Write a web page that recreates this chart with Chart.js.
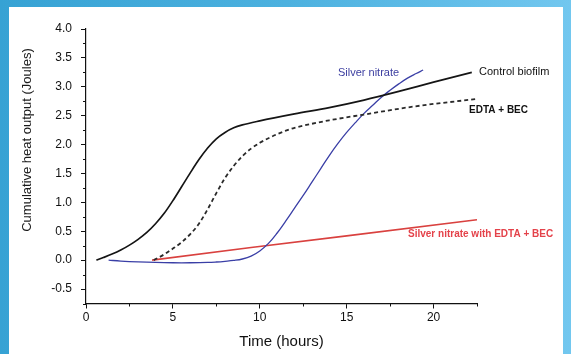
<!DOCTYPE html>
<html><head><meta charset="utf-8">
<script src="https://cdn.jsdelivr.net/npm/chart.js@4/dist/chart.umd.min.js"></script>
<style>
html,body{margin:0;padding:0;}
body{width:571px;height:354px;overflow:hidden;position:relative;background:linear-gradient(90deg,#36a2d4 0%,#4cb1df 50%,#72c7ef 100%);}
#panel{position:absolute;left:9px;top:7px;width:554px;height:347px;background:#fff;}
#c{position:absolute;left:0;top:0;}
</style></head><body>
<div id="panel"></div>
<canvas id="c" width="571" height="354"></canvas>
<script>
// ---- data ----
const controlTime = [0.6, 1.0, 1.5, 2.0, 2.5, 3.0, 3.5, 4.0, 4.5, 5.0, 5.5, 6.0, 6.5, 7.0, 7.5, 8.0, 8.5, 9.0, 10.0, 12.0, 14.0, 16.0, 18.0, 20.0, 22.2];
const controlHeat = [0.0, 0.045, 0.105, 0.175, 0.26, 0.36, 0.48, 0.63, 0.81, 1.03, 1.27, 1.51, 1.74, 1.94, 2.10, 2.21, 2.29, 2.34, 2.41, 2.53, 2.64, 2.77, 2.92, 3.08, 3.25];

const edtaTime = [3.9, 4.5, 5.0, 5.5, 6.0, 6.5, 7.0, 7.5, 8.0, 8.5, 9.0, 9.5, 10.0, 10.5, 11.0, 11.5, 12.0, 13.0, 14.0, 16.0, 18.9, 22.5];
const edtaHeat = [0.0, 0.10, 0.20, 0.31, 0.45, 0.63, 0.88, 1.16, 1.42, 1.63, 1.80, 1.93, 2.03, 2.11, 2.18, 2.24, 2.29, 2.36, 2.42, 2.52, 2.66, 2.79];

const silverTime = [1.3, 2.0, 3.0, 4.0, 5.0, 6.0, 7.0, 7.5, 8.0, 8.5, 9.0, 9.5, 10.0, 10.5, 11.0, 11.5, 12.0, 12.5, 13.0, 13.5, 14.0, 14.5, 15.0, 15.5, 16.0, 16.5, 17.0, 17.5, 18.0, 18.5, 19.0, 19.4];
const silverHeat = [0.0, -0.015, -0.03, -0.04, -0.045, -0.045, -0.04, -0.032, -0.02, -0.005, 0.02, 0.07, 0.16, 0.29, 0.47, 0.68, 0.90, 1.12, 1.35, 1.58, 1.81, 2.02, 2.21, 2.38, 2.54, 2.68, 2.82, 2.94, 3.05, 3.15, 3.23, 3.29];

const silverEdtaTime = [3.8, 9.5, 15.0, 22.5];
const silverEdtaHeat = [0.0, 0.22, 0.42, 0.70];

const xTickValues = [0, 5, 10, 15, 20];
const xMinorValues = [2.5, 7.5, 12.5, 17.5, 22.5];
const yTickValues = [-0.5, 0.0, 0.5, 1.0, 1.5, 2.0, 2.5, 3.0, 3.5, 4.0];
const yMinorValues = [-0.75, -0.25, 0.25, 0.75, 1.25, 1.75, 2.25, 2.75, 3.25, 3.75];

const seriesNames = ['Control biofilm', 'EDTA + BEC', 'Silver nitrate', 'Silver nitrate with EDTA + BEC'];
const xTitle = 'Time (hours)';
const yTitle = 'Cumulative heat output (Joules)';

function pts(xs, ys) { return xs.map((x, i) => ({x: x, y: ys[i]})); }

const FONT = "'Liberation Sans', Arial, sans-serif";

const labelPlugin = {
  id: 'labels',
  afterDraw(chart) {
    const ctx = chart.ctx;
    const xs = chart.scales.x, ys = chart.scales.y;
    ctx.save();
    // minor ticks
    ctx.strokeStyle = '#111';
    ctx.lineWidth = 1;
    ctx.beginPath();
    xMinorValues.forEach(v => {
      const p = Math.round(xs.getPixelForValue(v)) + 0.5;
      ctx.moveTo(p, ys.bottom); ctx.lineTo(p, ys.bottom + 3);
    });
    yMinorValues.forEach(v => {
      const p = Math.round(ys.getPixelForValue(v)) + 0.5;
      ctx.moveTo(xs.left - 3, p); ctx.lineTo(xs.left, p);
    });
    ctx.stroke();
    // y title
    ctx.fillStyle = '#1a1a1a';
    ctx.font = '13px ' + FONT;
    ctx.textAlign = 'center';
    ctx.textBaseline = 'middle';
    ctx.translate(27, 140);
    ctx.rotate(-Math.PI / 2);
    ctx.fillText(yTitle, 0, 0);
    ctx.restore();

    ctx.save();
    ctx.textBaseline = 'middle';
    ctx.textAlign = 'left';
    ctx.font = '11px ' + FONT;
    ctx.fillStyle = '#3c3ea0';
    ctx.fillText(seriesNames[2], 338, 73);
    ctx.fillStyle = '#111';
    ctx.fillText(seriesNames[0], 479, 72);
    ctx.font = 'bold 10px ' + FONT;
    ctx.fillText(seriesNames[1], 469, 110);
    ctx.fillStyle = '#e4424a';
    ctx.fillText(seriesNames[3], 408, 234);
    ctx.restore();
  }
};

new Chart(document.getElementById('c'), {
  type: 'line',
  data: {
    datasets: [
      {label: seriesNames[0], data: pts(controlTime, controlHeat), borderColor: '#151515', borderWidth: 1.7, pointRadius: 0, cubicInterpolationMode: 'monotone', fill: false},
      {label: seriesNames[1], data: pts(edtaTime, edtaHeat), borderColor: '#2a2a2a', borderWidth: 1.8, borderDash: [4, 3], pointRadius: 0, cubicInterpolationMode: 'monotone', fill: false},
      {label: seriesNames[2], data: pts(silverTime, silverHeat), borderColor: '#3a3fa6', borderWidth: 1.3, pointRadius: 0, tension: 0.4, fill: false},
      {label: seriesNames[3], data: pts(silverEdtaTime, silverEdtaHeat), borderColor: '#d9413f', borderWidth: 1.6, pointRadius: 0, tension: 0, fill: false}
    ]
  },
  options: {
    responsive: false,
    animation: false,
    devicePixelRatio: 1,
    layout: {padding: {top: 29, right: 94, bottom: 0, left: 0}},
    plugins: {legend: {display: false}, tooltip: {enabled: false}},
    scales: {
      x: {
        type: 'linear', min: 0, max: 22.5,
        afterBuildTicks: s => { s.ticks = xTickValues.map(v => ({value: v})); },
        afterFit: s => { s.height = 50.5; },
        grid: {drawOnChartArea: false, drawTicks: true, tickLength: 5, color: '#111'},
        border: {display: true, color: '#111', width: 1.2},
        ticks: {color: '#111', font: {family: FONT, size: 12}, padding: 2, maxRotation: 0,
                callback: v => String(v)},
        title: {display: true, text: xTitle, color: '#111', font: {family: FONT, size: 15}, padding: {top: 0, bottom: 3}}
      },
      y: {
        type: 'linear', min: -0.75, max: 4.0,
        afterBuildTicks: s => { s.ticks = yTickValues.map(v => ({value: v})); },
        afterFit: s => { s.width = 86; },
        grid: {drawOnChartArea: false, drawTicks: true, tickLength: 5, color: '#111'},
        border: {display: true, color: '#111', width: 1.2},
        ticks: {color: '#111', font: {family: FONT, size: 12}, padding: 9,
                callback: v => Number(v).toFixed(1)}
      }
    }
  },
  plugins: [labelPlugin]
});
</script>
</body></html>
